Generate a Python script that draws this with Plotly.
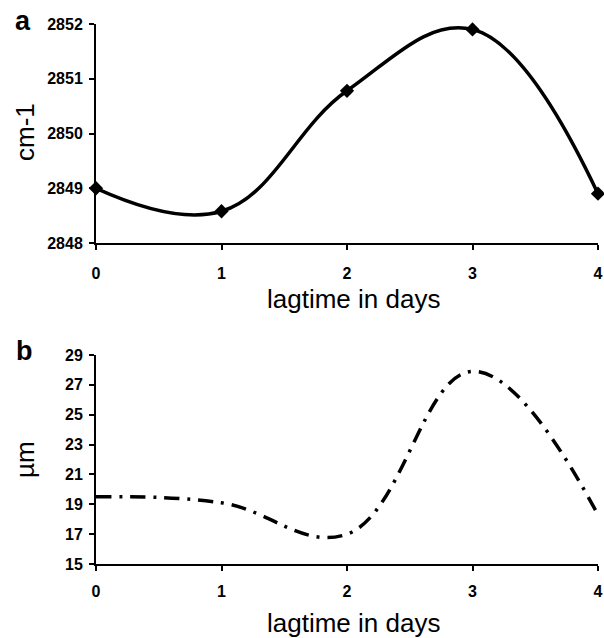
import plotly.graph_objects as go

days = [0, 1, 2, 3, 4]
wavenumber = [2849.0, 2848.58, 2850.78, 2851.9, 2848.9]
size_um = [19.5, 19.1, 17.0, 27.9, 18.3]

a_ticks = [2848, 2849, 2850, 2851, 2852]
b_ticks = [15, 17, 19, 21, 23, 25, 27, 29]

W, H = 604, 638

def px_x(p):
    return p / W

def px_y(p):
    return 1 - p / H

fig = go.Figure()
fig.add_trace(go.Scatter(
    x=days, y=wavenumber, mode="lines+markers",
    line=dict(color="black", width=3.5, shape="spline", smoothing=1.15),
    marker=dict(symbol="diamond", size=11, color="black"),
    cliponaxis=False, xaxis="x", yaxis="y", showlegend=False))
fig.add_trace(go.Scatter(
    x=days, y=size_um, mode="lines",
    line=dict(color="black", width=3.5, shape="spline", smoothing=1.15,
              dash="15px,8px,3px,8px"),
    cliponaxis=False, xaxis="x2", yaxis="y2", showlegend=False))

tickfont = dict(family="Liberation Sans, Arial", size=16, color="black", weight="bold")
axcommon = dict(showgrid=False, zeroline=False, showline=True, linecolor="black",
                linewidth=2, ticks="outside", ticklen=5, tickwidth=1.5,
                tickcolor="black", tickfont=tickfont, automargin=False)

fig.update_layout(
    template="none",
    width=W, height=H, margin=dict(l=0, r=0, t=0, b=0, pad=0),
    paper_bgcolor="white", plot_bgcolor="white",
    xaxis=dict(domain=[px_x(96), px_x(598)], range=[0, 4], anchor="y",
               tickvals=days, ticklabelstandoff=10, **axcommon),
    yaxis=dict(domain=[px_y(243), px_y(24)], range=[2848, 2852], anchor="x",
               tickvals=a_ticks, ticklabelstandoff=3, **axcommon),
    xaxis2=dict(domain=[px_x(96), px_x(598)], range=[0, 4], anchor="y2",
                tickvals=days, ticklabelstandoff=7, **axcommon),
    yaxis2=dict(domain=[px_y(564), px_y(355)], range=[15, 29], anchor="x2",
                tickvals=b_ticks, ticklabelstandoff=3, **axcommon),
)

titlefont = dict(family="Liberation Sans, Arial", size=26, color="black")
labelfont = dict(family="Liberation Sans, Arial", size=27, color="black", weight="bold")
annos = [
    dict(text="a", x=px_x(23), y=px_y(21), font=labelfont),
    dict(text="b", x=px_x(24), y=px_y(351), font=labelfont),
    dict(text="cm-1", x=px_x(25), y=px_y(132), textangle=-90, font=titlefont),
    dict(text="µm", x=px_x(25), y=px_y(460), textangle=-90, font=titlefont),
    dict(text="lagtime in days", x=px_x(353), y=px_y(299), font=titlefont),
    dict(text="lagtime in days", x=px_x(353), y=px_y(623), font=titlefont),
]
for a in annos:
    fig.add_annotation(xref="paper", yref="paper", xanchor="center", yanchor="middle",
                       showarrow=False, **a)

fig.write_html("out.html", config={"displayModeBar": False},
               post_script="document.body.style.margin='0px';document.body.style.overflow='hidden';")
